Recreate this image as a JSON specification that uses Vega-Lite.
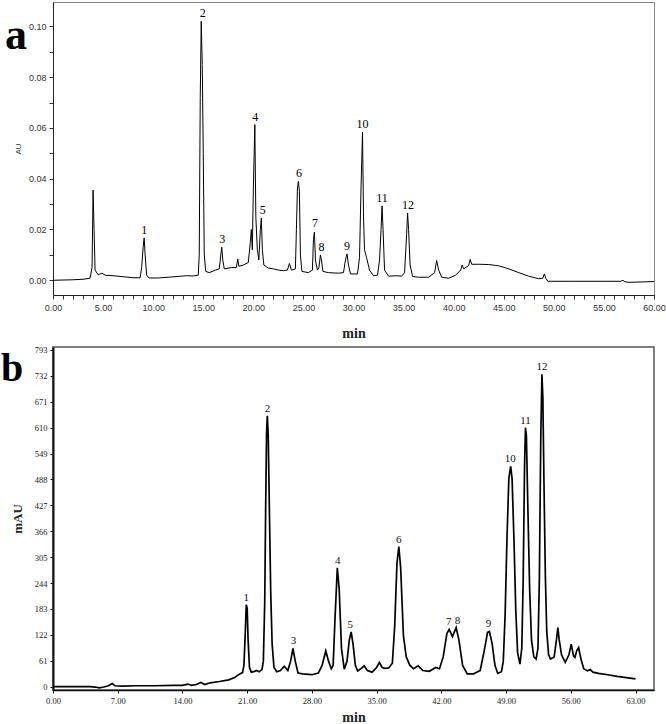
{
  "$schema": "https://vega.github.io/schema/vega-lite/v6.json",
  "background": "white",
  "padding": {"left": 0, "top": 1, "right": 1, "bottom": 0},
  "spacing": 4,
  "align": "none",
  "datasets": {
    "chromA": [
      {"t": 0, "v": 0.0}, {"t": 1, "v": 0.0001}, {"t": 2, "v": 0.0002}, {"t": 3, "v": 0.0004}, {"t": 3.7, "v": 0.0008},
      {"t": 3.9, "v": 0.005}, {"t": 4.0, "v": 0.0355}, {"t": 4.1, "v": 0.02}, {"t": 4.2, "v": 0.004}, {"t": 4.5, "v": 0.0022},
      {"t": 4.9, "v": 0.0028}, {"t": 5.2, "v": 0.002}, {"t": 6, "v": 0.0018}, {"t": 7, "v": 0.0014}, {"t": 8, "v": 0.001},
      {"t": 8.7, "v": 0.001}, {"t": 8.85, "v": 0.005}, {"t": 9.0, "v": 0.013}, {"t": 9.1, "v": 0.0167}, {"t": 9.2, "v": 0.01},
      {"t": 9.35, "v": 0.002}, {"t": 9.6, "v": 0.0009}, {"t": 10.5, "v": 0.0009}, {"t": 11.5, "v": 0.0012}, {"t": 12.5, "v": 0.0015},
      {"t": 13.3, "v": 0.0018}, {"t": 14.0, "v": 0.0017}, {"t": 14.5, "v": 0.002}, {"t": 14.6, "v": 0.01}, {"t": 14.7, "v": 0.072},
      {"t": 14.8, "v": 0.102}, {"t": 14.9, "v": 0.085}, {"t": 15.0, "v": 0.05}, {"t": 15.1, "v": 0.01}, {"t": 15.25, "v": 0.0035},
      {"t": 15.6, "v": 0.003}, {"t": 16.2, "v": 0.004}, {"t": 16.6, "v": 0.0045}, {"t": 16.75, "v": 0.01}, {"t": 16.85, "v": 0.013},
      {"t": 16.95, "v": 0.008}, {"t": 17.1, "v": 0.0045}, {"t": 17.8, "v": 0.005}, {"t": 18.3, "v": 0.005}, {"t": 18.45, "v": 0.0084},
      {"t": 18.55, "v": 0.0055}, {"t": 19.0, "v": 0.006}, {"t": 19.5, "v": 0.007}, {"t": 19.7, "v": 0.015}, {"t": 19.8, "v": 0.02},
      {"t": 19.9, "v": 0.012}, {"t": 20.0, "v": 0.036}, {"t": 20.15, "v": 0.0613}, {"t": 20.25, "v": 0.025}, {"t": 20.4, "v": 0.012},
      {"t": 20.55, "v": 0.008}, {"t": 20.7, "v": 0.02}, {"t": 20.8, "v": 0.0245}, {"t": 20.9, "v": 0.012}, {"t": 21.05, "v": 0.006},
      {"t": 21.5, "v": 0.0048}, {"t": 22.0, "v": 0.0045}, {"t": 22.5, "v": 0.004}, {"t": 23.0, "v": 0.0038}, {"t": 23.4, "v": 0.004},
      {"t": 23.6, "v": 0.0066}, {"t": 23.8, "v": 0.004}, {"t": 24.2, "v": 0.0045}, {"t": 24.3, "v": 0.02}, {"t": 24.4, "v": 0.036},
      {"t": 24.5, "v": 0.039}, {"t": 24.6, "v": 0.035}, {"t": 24.7, "v": 0.01}, {"t": 24.85, "v": 0.0035}, {"t": 25.5, "v": 0.003},
      {"t": 25.9, "v": 0.004}, {"t": 26.0, "v": 0.016}, {"t": 26.1, "v": 0.019}, {"t": 26.2, "v": 0.008}, {"t": 26.4, "v": 0.004},
      {"t": 26.55, "v": 0.005}, {"t": 26.7, "v": 0.01}, {"t": 26.8, "v": 0.008}, {"t": 26.95, "v": 0.0035}, {"t": 27.5, "v": 0.003},
      {"t": 28.5, "v": 0.0028}, {"t": 29.0, "v": 0.003}, {"t": 29.2, "v": 0.008}, {"t": 29.35, "v": 0.0104}, {"t": 29.5, "v": 0.006},
      {"t": 29.7, "v": 0.0025}, {"t": 30.4, "v": 0.0025}, {"t": 30.6, "v": 0.009}, {"t": 30.75, "v": 0.036}, {"t": 30.9, "v": 0.0583},
      {"t": 31.0, "v": 0.025}, {"t": 31.1, "v": 0.012}, {"t": 31.3, "v": 0.009}, {"t": 31.6, "v": 0.004}, {"t": 32.0, "v": 0.0018},
      {"t": 32.4, "v": 0.002}, {"t": 32.6, "v": 0.008}, {"t": 32.75, "v": 0.02}, {"t": 32.85, "v": 0.0293}, {"t": 32.95, "v": 0.02},
      {"t": 33.1, "v": 0.004}, {"t": 33.5, "v": 0.0016}, {"t": 34.3, "v": 0.0018}, {"t": 34.8, "v": 0.0016}, {"t": 35.1, "v": 0.003},
      {"t": 35.3, "v": 0.018}, {"t": 35.4, "v": 0.0265}, {"t": 35.5, "v": 0.02}, {"t": 35.65, "v": 0.006}, {"t": 35.9, "v": 0.0015},
      {"t": 36.5, "v": 0.0012}, {"t": 37.5, "v": 0.0012}, {"t": 38.1, "v": 0.003}, {"t": 38.3, "v": 0.0078}, {"t": 38.5, "v": 0.004},
      {"t": 38.8, "v": 0.0012}, {"t": 39.5, "v": 0.0008}, {"t": 40.2, "v": 0.002}, {"t": 40.7, "v": 0.004}, {"t": 40.85, "v": 0.006},
      {"t": 41.0, "v": 0.0045}, {"t": 41.5, "v": 0.0058}, {"t": 41.65, "v": 0.0082}, {"t": 41.8, "v": 0.0063}, {"t": 42.5, "v": 0.0063},
      {"t": 43.5, "v": 0.0062}, {"t": 44.5, "v": 0.0057}, {"t": 45.5, "v": 0.0045}, {"t": 46.5, "v": 0.003}, {"t": 47.5, "v": 0.0016},
      {"t": 48.5, "v": 0.0006}, {"t": 48.9, "v": 0.0008}, {"t": 49.05, "v": 0.0025}, {"t": 49.2, "v": 0.0008}, {"t": 49.4, "v": -0.0004},
      {"t": 52, "v": -0.0004}, {"t": 55, "v": -0.0004}, {"t": 56.7, "v": -0.0004}, {"t": 56.9, "v": 0.0}, {"t": 57.1, "v": -0.0006},
      {"t": 57.5, "v": -0.0008}, {"t": 58.5, "v": -0.0007}, {"t": 60.0, "v": -0.0005}
    ],
    "labelsA": [
      {"lab": "1", "t": 9.1, "v": 0.0167}, {"lab": "2", "t": 14.95, "v": 0.102}, {"lab": "3", "t": 16.9, "v": 0.013},
      {"lab": "4", "t": 20.2, "v": 0.0613}, {"lab": "5", "t": 20.95, "v": 0.0245}, {"lab": "6", "t": 24.55, "v": 0.039},
      {"lab": "7", "t": 26.15, "v": 0.0195}, {"lab": "8", "t": 26.8, "v": 0.01}, {"lab": "9", "t": 29.35, "v": 0.0104},
      {"lab": "10", "t": 30.9, "v": 0.0583}, {"lab": "11", "t": 32.85, "v": 0.0293}, {"lab": "12", "t": 35.45, "v": 0.0265}
    ],
    "chromB": [
      {"t": 0, "v": 0}, {"t": 2, "v": 0}, {"t": 4, "v": 0}, {"t": 4.6, "v": -1}, {"t": 5.0, "v": -3}, {"t": 5.5, "v": -1},
      {"t": 6.0, "v": 2}, {"t": 6.4, "v": 7}, {"t": 6.7, "v": 2}, {"t": 7.5, "v": 1}, {"t": 9, "v": 2}, {"t": 11, "v": 2},
      {"t": 13, "v": 3}, {"t": 14.0, "v": 3}, {"t": 14.6, "v": 6}, {"t": 15.0, "v": 3}, {"t": 15.5, "v": 5}, {"t": 16.0, "v": 10},
      {"t": 16.4, "v": 5}, {"t": 17.0, "v": 9}, {"t": 18.0, "v": 12}, {"t": 19.0, "v": 16}, {"t": 19.7, "v": 22}, {"t": 20.0, "v": 27},
      {"t": 20.3, "v": 31}, {"t": 20.5, "v": 33}, {"t": 20.65, "v": 50}, {"t": 20.8, "v": 130}, {"t": 20.9, "v": 193}, {"t": 21.0, "v": 185},
      {"t": 21.1, "v": 110}, {"t": 21.25, "v": 45}, {"t": 21.45, "v": 34}, {"t": 21.8, "v": 36}, {"t": 22.0, "v": 38}, {"t": 22.3, "v": 35},
      {"t": 22.6, "v": 40}, {"t": 22.75, "v": 60}, {"t": 22.9, "v": 200}, {"t": 23.0, "v": 420}, {"t": 23.1, "v": 600}, {"t": 23.18, "v": 638},
      {"t": 23.28, "v": 590}, {"t": 23.4, "v": 420}, {"t": 23.55, "v": 220}, {"t": 23.7, "v": 100}, {"t": 23.9, "v": 45}, {"t": 24.2, "v": 35},
      {"t": 24.6, "v": 38}, {"t": 25.0, "v": 48}, {"t": 25.4, "v": 38}, {"t": 25.7, "v": 60}, {"t": 25.95, "v": 90}, {"t": 26.2, "v": 60},
      {"t": 26.5, "v": 32}, {"t": 27.0, "v": 30}, {"t": 28.0, "v": 28}, {"t": 28.7, "v": 32}, {"t": 29.1, "v": 50}, {"t": 29.5, "v": 84},
      {"t": 29.8, "v": 60}, {"t": 30.1, "v": 42}, {"t": 30.3, "v": 50}, {"t": 30.5, "v": 160}, {"t": 30.75, "v": 280}, {"t": 30.95, "v": 230},
      {"t": 31.2, "v": 90}, {"t": 31.5, "v": 41}, {"t": 31.8, "v": 60}, {"t": 32.05, "v": 110}, {"t": 32.25, "v": 129}, {"t": 32.45, "v": 100},
      {"t": 32.7, "v": 50}, {"t": 32.95, "v": 37}, {"t": 33.3, "v": 42}, {"t": 33.65, "v": 49}, {"t": 34.0, "v": 38}, {"t": 34.5, "v": 34},
      {"t": 35.0, "v": 45}, {"t": 35.3, "v": 57}, {"t": 35.6, "v": 45}, {"t": 35.9, "v": 43}, {"t": 36.3, "v": 44}, {"t": 36.7, "v": 55},
      {"t": 36.95, "v": 140}, {"t": 37.2, "v": 290}, {"t": 37.4, "v": 330}, {"t": 37.6, "v": 280}, {"t": 37.9, "v": 120}, {"t": 38.2, "v": 70},
      {"t": 38.6, "v": 50}, {"t": 39.0, "v": 42}, {"t": 39.5, "v": 49}, {"t": 40.0, "v": 38}, {"t": 40.7, "v": 36}, {"t": 41.4, "v": 45},
      {"t": 41.8, "v": 42}, {"t": 42.2, "v": 70}, {"t": 42.6, "v": 125}, {"t": 42.85, "v": 135}, {"t": 43.2, "v": 118}, {"t": 43.6, "v": 139},
      {"t": 43.9, "v": 110}, {"t": 44.3, "v": 50}, {"t": 44.8, "v": 30}, {"t": 45.5, "v": 30}, {"t": 46.2, "v": 38}, {"t": 46.6, "v": 80},
      {"t": 47.0, "v": 128}, {"t": 47.2, "v": 130}, {"t": 47.5, "v": 100}, {"t": 47.8, "v": 50}, {"t": 48.1, "v": 31}, {"t": 48.5, "v": 35},
      {"t": 48.7, "v": 60}, {"t": 48.9, "v": 170}, {"t": 49.1, "v": 350}, {"t": 49.3, "v": 490}, {"t": 49.5, "v": 519}, {"t": 49.65, "v": 490},
      {"t": 49.85, "v": 350}, {"t": 50.05, "v": 180}, {"t": 50.25, "v": 80}, {"t": 50.5, "v": 53}, {"t": 50.7, "v": 90}, {"t": 50.85, "v": 250},
      {"t": 51.0, "v": 520}, {"t": 51.1, "v": 610}, {"t": 51.2, "v": 590}, {"t": 51.35, "v": 430}, {"t": 51.55, "v": 230}, {"t": 51.75, "v": 110},
      {"t": 52.0, "v": 70}, {"t": 52.25, "v": 65}, {"t": 52.45, "v": 90}, {"t": 52.6, "v": 250}, {"t": 52.75, "v": 580}, {"t": 52.88, "v": 736},
      {"t": 52.98, "v": 680}, {"t": 53.1, "v": 480}, {"t": 53.25, "v": 260}, {"t": 53.4, "v": 130}, {"t": 53.6, "v": 75}, {"t": 53.8, "v": 65},
      {"t": 54.2, "v": 70}, {"t": 54.45, "v": 110}, {"t": 54.6, "v": 139}, {"t": 54.75, "v": 110}, {"t": 55.0, "v": 75}, {"t": 55.4, "v": 57},
      {"t": 55.8, "v": 75}, {"t": 56.05, "v": 100}, {"t": 56.3, "v": 72}, {"t": 56.45, "v": 69}, {"t": 56.65, "v": 85}, {"t": 56.85, "v": 92},
      {"t": 57.1, "v": 65}, {"t": 57.4, "v": 42}, {"t": 57.8, "v": 37}, {"t": 58.1, "v": 40}, {"t": 58.4, "v": 34}, {"t": 59, "v": 31},
      {"t": 60, "v": 28}, {"t": 61, "v": 24}, {"t": 62, "v": 21}, {"t": 63, "v": 18}
    ],
    "labelsB": [
      {"lab": "1", "t": 20.9, "v": 193}, {"lab": "2", "t": 23.2, "v": 638}, {"lab": "3", "t": 26.0, "v": 90},
      {"lab": "4", "t": 30.8, "v": 280}, {"lab": "5", "t": 32.15, "v": 129}, {"lab": "6", "t": 37.4, "v": 330},
      {"lab": "7", "t": 42.8, "v": 135}, {"lab": "8", "t": 43.75, "v": 139}, {"lab": "9", "t": 47.1, "v": 130},
      {"lab": "10", "t": 49.45, "v": 519}, {"lab": "11", "t": 51.1, "v": 610}, {"lab": "12", "t": 52.9, "v": 736}
    ],
    "panelA": [{"lab": "a", "t": 0, "v": 0.0911}],
    "panelB": [{"lab": "b", "t": 0, "v": 720}]
  },
  "vconcat": [
    {
      "width": 601,
      "height": 293,
      "view": {"stroke": "#888", "strokeWidth": 1},
      "encoding": {
        "x": {"field": "t", "type": "quantitative", "scale": {"domain": [0, 60], "nice": false, "zero": false},
          "axis": {"title": "min", "values": [0,1,2,3,4,5,6,7,8,9,10,11,12,13,14,15,16,17,18,19,20,21,22,23,24,25,26,27,28,29,30,31,32,33,34,35,36,37,38,39,40,41,42,43,44,45,46,47,48,49,50,51,52,53,54,55,56,57,58,59,60],
            "labelExpr": "datum.value % 5 == 0 ? format(datum.value, '.2f') : ''", "labelOverlap": false, "labelFlush": false,
            "labelFont": "Liberation Sans", "labelFontSize": 9, "labelColor": "#333", "labelPadding": 4,
            "tickColor": "#333", "tickSize": 4, "domainColor": "#222", "grid": false,
            "titleFont": "Liberation Serif", "titleFontSize": 14, "titleFontWeight": "bold", "titleColor": "#222", "titlePadding": 14}},
        "y": {"field": "v", "type": "quantitative", "scale": {"domain": [-0.0058, 0.1096], "nice": false, "zero": false},
          "axis": {"title": "AU", "values": [0, 0.01, 0.02, 0.03, 0.04, 0.05, 0.06, 0.07, 0.08, 0.09, 0.1],
            "labelExpr": "round(datum.value * 100) % 2 == 0 ? format(datum.value, '.2f') : ''", "labelOverlap": false,
            "labelFont": "Liberation Sans", "labelFontSize": 9, "labelColor": "#333", "labelPadding": 3,
            "tickColor": "#333", "tickSize": 4, "domainColor": "#222", "grid": false,
            "titleFont": "Liberation Sans", "titleFontSize": 8, "titleFontWeight": "normal", "titleColor": "#333", "titlePadding": 6}}
      },
      "layer": [
        {"data": {"name": "chromA"}, "mark": {"type": "line", "color": "black", "strokeWidth": 1, "clip": true}},
        {"data": {"name": "labelsA"}, "mark": {"type": "text", "font": "Liberation Serif", "fontSize": 12, "baseline": "alphabetic", "dy": -4, "color": "black"},
          "encoding": {"text": {"field": "lab"}}},
        {"data": {"name": "panelA"}, "mark": {"type": "text", "font": "Liberation Serif", "fontSize": 44, "fontWeight": "bold", "baseline": "alphabetic", "align": "left", "dx": -48, "color": "black"},
          "encoding": {"text": {"field": "lab"}}}
      ]
    },
    {
      "width": 601,
      "height": 343,
      "view": {"stroke": "#555", "strokeWidth": 1.5},
      "encoding": {
        "x": {"field": "t", "type": "quantitative", "scale": {"domain": [0, 65], "nice": false, "zero": false},
          "axis": {"title": "min", "values": [0, 7, 14, 21, 28, 35, 42, 49, 56, 63], "format": ".2f", "labelOverlap": false, "labelFlush": false,
            "labelFont": "Liberation Serif", "labelFontSize": 8.5, "labelColor": "#222", "labelPadding": 3,
            "tickColor": "#111", "tickSize": 3, "domainColor": "#111", "domainWidth": 1.5, "grid": false,
            "titleFont": "Liberation Serif", "titleFontSize": 14, "titleFontWeight": "bold", "titleColor": "#222", "titlePadding": 6}},
        "y": {"field": "v", "type": "quantitative", "scale": {"domain": [-8, 800], "nice": false, "zero": false},
          "axis": {"title": "mAU", "values": [0, 61, 122, 183, 244, 305, 366, 427, 488, 549, 610, 671, 732, 793], "format": "d", "labelOverlap": false,
            "labelFont": "Liberation Serif", "labelFontSize": 8.5, "labelColor": "#222", "labelPadding": 3,
            "tickColor": "#111", "tickSize": 3, "domainColor": "#111", "domainWidth": 2, "grid": false,
            "titleFont": "Liberation Serif", "titleFontSize": 13, "titleFontWeight": "bold", "titleColor": "#222", "titlePadding": 10}}
      },
      "layer": [
        {"data": {"name": "chromB"}, "mark": {"type": "line", "color": "black", "strokeWidth": 1.7, "clip": true}},
        {"data": {"name": "labelsB"}, "mark": {"type": "text", "font": "Liberation Serif", "fontSize": 11, "baseline": "alphabetic", "dy": -4, "color": "#111"},
          "encoding": {"text": {"field": "lab"}}},
        {"data": {"name": "panelB"}, "mark": {"type": "text", "font": "Liberation Serif", "fontSize": 40, "fontWeight": "bold", "baseline": "alphabetic", "align": "left", "dx": -52, "color": "black"},
          "encoding": {"text": {"field": "lab"}}}
      ]
    }
  ]
}
